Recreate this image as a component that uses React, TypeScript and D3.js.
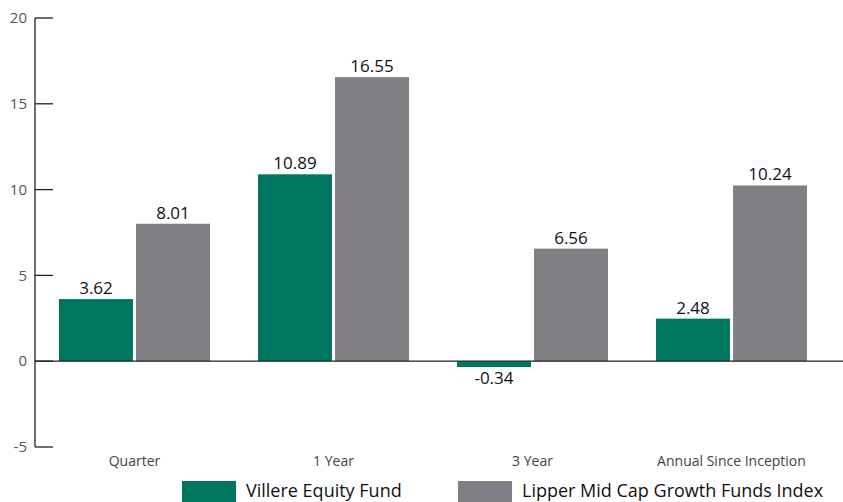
import React from "react";
import * as d3 from "d3";

const categories = ["Quarter", "1 Year", "3 Year", "Annual Since Inception"];
const seriesNames = ["Villere Equity Fund", "Lipper Mid Cap Growth Funds Index"];
const villere = [3.62, 10.89, -0.34, 2.48];
const lipper = [8.01, 16.55, 6.56, 10.24];
const yTicks = [-5, 0, 5, 10, 15, 20];
const colors = ["#007560", "#808084"];

const W = 843;
const H = 502;
const FONT = "'Open Sans', 'Noto Sans', sans-serif";

export default function App() {
  const y = d3.scaleLinear().domain([-5, 20]).range([447, 18]);
  const x0 = d3
    .scaleBand<string>()
    .domain(categories)
    .range([35, 831])
    .paddingInner(0.2412)
    .paddingOuter(0.1206);
  const x1 = d3
    .scaleBand<string>()
    .domain(seriesNames)
    .range([0, x0.bandwidth()])
    .paddingInner(0.04);
  const series = [villere, lipper];
  const fmt = (v: number) => d3.format(".2f")(v).replace("\u2212", "-");

  return (
    <svg
      width={W}
      height={H}
      style={{ position: "absolute", left: 0, top: 0, fontFamily: FONT }}
    >
      {/* bars */}
      {categories.map((c, i) => (
        <g key={c} transform={`translate(${x0(c)},0)`}>
          {seriesNames.map((s, j) => {
            const v = series[j][i];
            const top = y(Math.max(0, v));
            const bottom = y(Math.min(0, v));
            const bx = x1(s)!;
            const cx = bx + x1.bandwidth() / 2;
            return (
              <g key={s}>
                <rect
                  x={bx}
                  y={top}
                  width={x1.bandwidth()}
                  height={bottom - top}
                  fill={colors[j]}
                />
                <text
                  x={cx}
                  y={v >= 0 ? top - 5 : bottom + 17}
                  textAnchor="middle"
                  fontSize={17}
                  fill="#111"
                >
                  {fmt(v)}
                </text>
              </g>
            );
          })}
          <text
            x={x0.bandwidth() / 2}
            y={466}
            textAnchor="middle"
            fontSize={14}
            fill="#444"
          >
            {c}
          </text>
        </g>
      ))}

      {/* zero line */}
      <line x1={35} x2={W} y1={y(0)} y2={y(0)} stroke="#222" strokeWidth={1.3} />

      {/* y axis */}
      <line x1={35} x2={35} y1={y(20)} y2={y(-5)} stroke="#222" strokeWidth={1.3} />
      {yTicks.map((t) => (
        <g key={t}>
          <line x1={35} x2={53} y1={y(t)} y2={y(t)} stroke="#222" strokeWidth={1.3} />
          <text
            x={27}
            y={y(t)}
            dy="0.35em"
            textAnchor="end"
            fontSize={15}
            fill="#555"
          >
            {t}
          </text>
        </g>
      ))}

      {/* legend */}
      {seriesNames.map((s, j) => {
        const lx = j === 0 ? 182 : 458;
        return (
          <g key={s}>
            <rect x={lx} y={481} width={54} height={24} fill={colors[j]} />
            <text x={lx + 64} y={497} fontSize={18} fill="#111">
              {s}
            </text>
          </g>
        );
      })}
    </svg>
  );
}
